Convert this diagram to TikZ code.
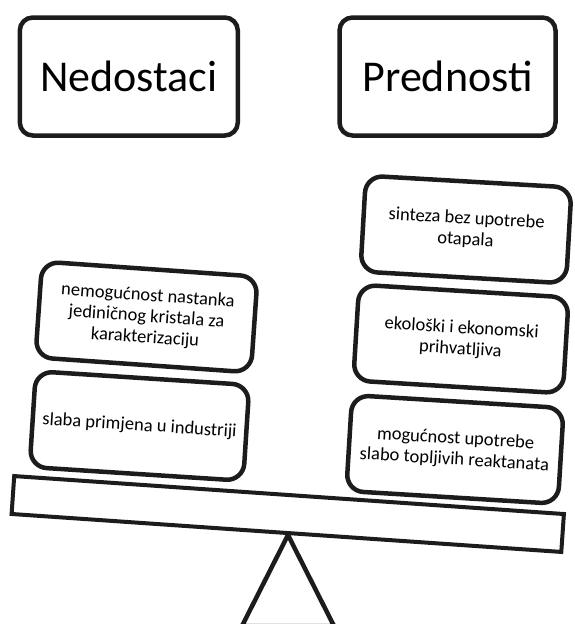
\documentclass[tikz,border=0pt]{standalone}
\usepackage{fontspec}
\setmainfont{Carlito}
\definecolor{ink}{HTML}{1C1C1C}
\begin{document}
\begin{tikzpicture}[x=1pt,y=-1pt,
  title/.style={draw=ink, line width=4.5pt, rounded corners=13pt, minimum height=118pt, inner sep=0pt, font=\fontsize{44}{50}\selectfont},
  card/.style={draw=ink, fill=white, line width=4.5pt, rounded corners=17pt, minimum height=96pt, inner sep=0pt, align=center, font=\fontsize{18.5}{21}\selectfont},
  beam/.style={draw=ink, fill=white, line width=4pt, inner sep=0pt},
  stand/.style={draw=ink, line width=4.5pt, line join=miter}
]
\useasboundingbox (0,0) rectangle (574,624);
\fill[white] (0,0) rectangle (574,624);

% stand
\coordinate (apex) at (288,535);
\coordinate (bl) at (242,626);
\coordinate (br) at (334,626);
\draw[stand] (apex) -- (bl) -- (br) -- cycle;

% beam
\node[beam, minimum width=551pt, minimum height=38pt, rotate=-3.95] (plank) at (287.75,514) {};

% titles
\node[title, minimum width=218pt] (ned) at (128.8,76.5) {Nedostaci};
\node[title, minimum width=216pt] (pre) at (447.5,76.5) {Prednosti};

% left cards
\node[card, minimum width=216pt, rotate=-4] (a) at (146.5,317) {nemogućnost nastanka\\jediničnog kristala za\\karakterizaciju};
\node[card, minimum width=214pt, rotate=-3.7] (b) at (139.5,426) {slaba primjena u industriji};

% right cards
\node[card, minimum width=206pt, rotate=-3.3] (c) at (466,229.5) {sinteza bez upotrebe\\otapala};
\node[card, minimum width=210pt, rotate=-3.5] (d) at (461,339) {ekološki i ekonomski\\prihvatljiva};
\node[card, minimum width=212pt, rotate=-3.5] (e) at (455,449.5) {mogućnost upotrebe\\slabo topljivih reaktanata};
\end{tikzpicture}
\end{document}
